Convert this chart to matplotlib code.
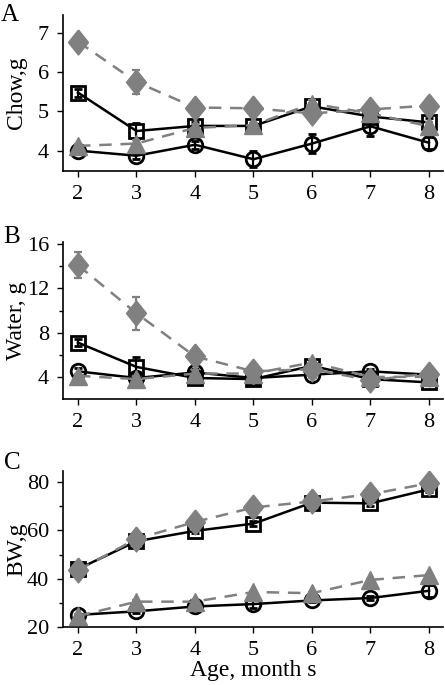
import matplotlib
matplotlib.use("Agg")
import matplotlib.pyplot as plt
import numpy as np

plt.rcParams['font.family'] = ['Liberation Serif', 'DejaVu Serif']

months = [2, 3, 4, 5, 6, 7, 8]

# Panel A: Chow, g
chow_diamond = [6.78, 5.75, 5.10, 5.08, 4.95, 5.05, 5.15]
chow_diamond_err = [0.10, 0.30, 0.08, 0.08, 0.15, 0.10, 0.08]
chow_square = [5.48, 4.50, 4.63, 4.63, 5.13, 4.87, 4.72]
chow_square_err = [0.10, 0.20, 0.10, 0.08, 0.08, 0.08, 0.10]
chow_circle = [4.00, 3.87, 4.15, 3.78, 4.18, 4.62, 4.20]
chow_circle_err = [0.05, 0.08, 0.10, 0.20, 0.25, 0.25, 0.15]
chow_triangle = [4.12, 4.18, 4.58, 4.65, 5.20, 4.95, 4.62]
chow_triangle_err = [0.05, 0.10, 0.10, 0.05, 0.10, 0.10, 0.10]

# Panel B: Water, g
water_diamond = [14.1, 9.75, 5.85, 4.5, 4.7, 3.7, 4.3]
water_diamond_err = [1.2, 1.5, 0.5, 0.3, 0.3, 0.5, 0.3]
water_square = [7.1, 4.9, 3.9, 3.8, 5.0, 3.8, 3.5]
water_square_err = [0.3, 0.9, 0.3, 0.2, 0.3, 0.3, 0.2]
water_circle = [4.5, 3.9, 4.4, 3.9, 4.2, 4.5, 4.2]
water_circle_err = [0.3, 0.3, 0.3, 0.2, 0.2, 0.2, 0.2]
water_triangle = [4.1, 3.8, 4.3, 4.3, 5.3, 4.0, 4.0]
water_triangle_err = [0.2, 0.3, 0.3, 0.2, 0.3, 0.3, 0.2]

# Panel C: BW, g
bw_diamond = [43.5, 56.5, 63.5, 69.5, 72.0, 75.0, 79.5]
bw_diamond_err = [1.5, 1.0, 1.0, 1.0, 1.0, 1.0, 1.0]
bw_square = [44.0, 55.5, 59.8, 62.8, 71.5, 71.2, 77.0]
bw_square_err = [1.0, 1.0, 1.0, 1.0, 1.0, 1.0, 1.0]
bw_circle = [25.0, 26.5, 28.5, 29.5, 31.0, 32.0, 35.0]
bw_circle_err = [0.5, 0.5, 0.5, 1.5, 0.5, 0.8, 2.5]
bw_triangle = [24.5, 30.5, 30.5, 34.5, 34.0, 39.5, 41.5]
bw_triangle_err = [0.5, 0.5, 0.5, 0.5, 0.5, 0.5, 0.5]

GRAY = '#808080'
DIAMOND = [(0, 1), (0.8, 0), (0, -1), (-0.8, 0), (0, 1)]

fig = plt.figure(figsize=(4.45, 6.85), dpi=100)
W, H = 445.0, 685.0

def make_ax(top_px, bottom_px):
    left = 63 / W
    right = 443 / W
    return fig.add_axes([left, 1 - bottom_px / H, right - left, (bottom_px - top_px) / H])

axA = make_ax(15, 171)
axB = make_ax(242, 399)
axC = make_ax(471, 627)

def draw(ax, sq, sqe, ci, cie, di, die, tr, tre):
    kw_black = dict(color='black', lw=1.8, elinewidth=1.6, capsize=3, capthick=1.6)
    ax.errorbar(months, sq, yerr=sqe, marker='s', ms=9.5, mfc='none', mec='black',
                mew=2.0, zorder=3, **kw_black)
    ax.errorbar(months, ci, yerr=cie, marker='o', ms=10.5, mfc='none', mec='black',
                mew=2.0, zorder=3, **kw_black)
    kw_gray = dict(color=GRAY, lw=1.8, ls=(0, (5, 3.5)), elinewidth=1.6, capsize=3,
                   capthick=1.6)
    ax.errorbar(months, tr, yerr=tre, marker='^', ms=13.5, mfc=GRAY, mec=GRAY,
                zorder=4, **kw_gray)
    ax.errorbar(months, di, yerr=die, marker=DIAMOND, ms=18, mfc=GRAY, mec=GRAY,
                zorder=4, **kw_gray)

draw(axA, chow_square, chow_square_err, chow_circle, chow_circle_err,
     chow_diamond, chow_diamond_err, chow_triangle, chow_triangle_err)
draw(axB, water_square, water_square_err, water_circle, water_circle_err,
     water_diamond, water_diamond_err, water_triangle, water_triangle_err)
draw(axC, bw_square, bw_square_err, bw_circle, bw_circle_err,
     bw_diamond, bw_diamond_err, bw_triangle, bw_triangle_err)

for ax in (axA, axB, axC):
    ax.set_xlim(1.744, 8.24)
    ax.set_xticks(months)
    ax.spines['top'].set_visible(False)
    ax.spines['right'].set_visible(False)
    ax.spines['left'].set_linewidth(1.2)
    ax.spines['bottom'].set_linewidth(1.2)
    ax.tick_params(direction='out', length=4, width=1.0, labelsize=16, pad=6)
    ax.tick_params(axis='y', which='minor', direction='out', length=3, width=1.0)

axA.set_ylim(3.48, 7.46)
axA.set_yticks([4, 5, 6, 7])
axB.set_ylim(2.0, 16.2)
axB.set_yticks([4, 8, 12, 16])
axB.set_yticks([6, 10, 14], minor=True)
axC.set_ylim(20, 84.6)
axC.set_yticks([20, 40, 60, 80])
axC.set_yticks([30, 50, 70], minor=True)

axA.set_ylabel('Chow,g', fontsize=17)
axB.set_ylabel('Water, g', fontsize=17)
axC.set_ylabel('BW,g', fontsize=17)
for ax in (axA, axB, axC):
    ax.yaxis.set_label_coords(-0.095, 0.5)

axC.set_xlabel('Age, month s', fontsize=17, labelpad=0)

fig.text(10 / W, 1 - 15 / H, 'A', fontsize=18, ha='center', va='center')
fig.text(12 / W, 1 - 237 / H, 'B', fontsize=18, ha='center', va='center')
fig.text(12 / W, 1 - 463 / H, 'C', fontsize=18, ha='center', va='center')

fig.savefig('out.png', dpi=100)
